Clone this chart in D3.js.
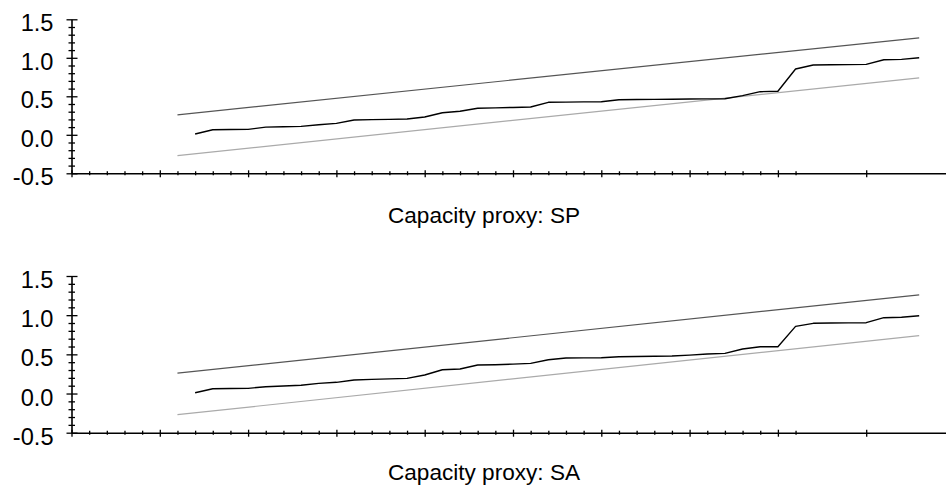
<!DOCTYPE html>
<html>
<head>
<meta charset="utf-8">
<script src="https://cdn.jsdelivr.net/npm/d3@7"></script>
<style>
  html, body { margin: 0; padding: 0; background: #fff; }
  svg { display: block; }
  text { font-family: "Liberation Sans", Arial, sans-serif; }
</style>
</head>
<body>
<svg id="chart" width="946" height="490"></svg>
<script>
// ---- data ----
const obsIndex = d3.range(7, 49); // observation positions 7..48
const cusumSP = [0.010, 0.066, 0.068, 0.071, 0.100, 0.105, 0.110, 0.130, 0.149, 0.192,
                 0.197, 0.200, 0.205, 0.231, 0.287, 0.305, 0.344, 0.350, 0.355, 0.361,
                 0.422, 0.425, 0.428, 0.430, 0.456, 0.458, 0.460, 0.462, 0.464, 0.466,
                 0.469, 0.508, 0.560, 0.565, 0.855, 0.906, 0.910, 0.912, 0.915, 0.975,
                 0.980, 1.000];
const cusumSA = [0.010, 0.061, 0.064, 0.066, 0.087, 0.096, 0.105, 0.130, 0.143, 0.172,
                 0.180, 0.187, 0.194, 0.236, 0.304, 0.313, 0.364, 0.368, 0.375, 0.385,
                 0.431, 0.453, 0.455, 0.457, 0.470, 0.473, 0.476, 0.479, 0.490, 0.504,
                 0.513, 0.568, 0.597, 0.597, 0.857, 0.896, 0.900, 0.902, 0.904, 0.968,
                 0.973, 0.993];
const bandX = [6, 48];
const upperBand = [0.26, 1.26];
const lowerBand = [-0.27, 0.74];
const yMajorTicks = [-0.5, 0.0, 0.5, 1.0, 1.5];
const yTickLabels = ["-0.5", "0.0", "0.5", "1.0", "1.5"];
const yMinorTicks = [-0.4, -0.3, -0.2, -0.1, 0.1, 0.2, 0.3, 0.4, 0.6, 0.7, 0.8, 0.9, 1.1, 1.2, 1.3, 1.4];
const xMajorTicks = [0, 5, 10, 15, 20, 25, 30, 35, 40, 45];
const xMinorTicks = d3.range(1, 42).filter(d => d % 5 !== 0);
const panelTitles = ["Capacity proxy: SP", "Capacity proxy: SA"];

// ---- layout ----
const svg = d3.select("#chart");
const panels = [
  { series: cusumSP, title: panelTitles[0], yTop: 19.3, yBottom: 173.3, titleY: 223 },
  { series: cusumSA, title: panelTitles[1], yTop: 276, yBottom: 432.7, titleY: 480 }
];
const x0 = 71.5;
const step = 17.66;
const x = d3.scaleLinear().domain([0, 50]).range([x0, x0 + 50 * step]);
const FONT = 22.6;
const TICKFONT = 23.6;

panels.forEach(p => {
  const y = d3.scaleLinear().domain([-0.5, 1.5]).range([p.yBottom, p.yTop]);
  const g = svg.append("g");

  // bands
  const bandLine = (vals) => d3.line().x((d, i) => x(bandX[i])).y(d => y(d))(vals);
  g.append("path").attr("d", bandLine(upperBand))
    .attr("fill", "none").attr("stroke", "#555").attr("stroke-width", 1.2);
  g.append("path").attr("d", bandLine(lowerBand))
    .attr("fill", "none").attr("stroke", "#aaa").attr("stroke-width", 1.2);

  // main series
  g.append("path")
    .attr("d", d3.line().x((d, i) => x(obsIndex[i])).y(d => y(d))(p.series))
    .attr("fill", "none").attr("stroke", "#000").attr("stroke-width", 1.4)
    .attr("stroke-linejoin", "round");

  // x axis
  const xa = g.append("g").attr("transform", `translate(0,${p.yBottom})`);
  xa.call(d3.axisBottom(x).tickValues(xMajorTicks).tickSize(4).tickFormat("").tickSizeOuter(0));
  xa.selectAll(".tick line").attr("y1", -3).attr("y2", 4).attr("stroke", "#000").attr("stroke-width", 1.3);
  xa.select(".domain").attr("stroke", "#000").attr("stroke-width", 1.6);
  const xm = g.append("g").attr("transform", `translate(0,${p.yBottom})`);
  xm.call(d3.axisBottom(x).tickValues(xMinorTicks).tickSize(2).tickFormat("").tickSizeOuter(0));
  xm.select(".domain").remove();
  xm.selectAll(".tick line").attr("y1", -2).attr("y2", 2).attr("stroke", "#000").attr("stroke-width", 1.3);

  // y axis
  const ya = g.append("g").attr("transform", `translate(${x0},0)`);
  ya.call(d3.axisLeft(y).tickValues(yMajorTicks).tickSize(5).tickSizeOuter(0)
    .tickFormat((d, i) => yTickLabels[i]));
  ya.attr("font-family", "Liberation Sans, Arial, sans-serif").attr("font-size", TICKFONT);
  ya.selectAll(".tick line").attr("x1", 6).attr("x2", -5).attr("stroke", "#000").attr("stroke-width", 1.3);
  ya.select(".domain").attr("stroke", "#000").attr("stroke-width", 1.6);
  ya.selectAll(".tick text")
    .attr("x", -18).attr("dy", null).attr("y", 11.6)
    .attr("fill", "#000");
  const ym = g.append("g").attr("transform", `translate(${x0},0)`);
  ym.call(d3.axisLeft(y).tickValues(yMinorTicks).tickSize(3).tickFormat(""));
  ym.select(".domain").remove();
  ym.selectAll(".tick line").attr("x1", 3.5).attr("x2", -3).attr("stroke", "#000").attr("stroke-width", 1.3);

  // title
  g.append("text").attr("x", 484).attr("y", p.titleY)
    .attr("text-anchor", "middle").attr("font-size", FONT).attr("fill", "#000")
    .text(p.title);
});
</script>
</body>
</html>
